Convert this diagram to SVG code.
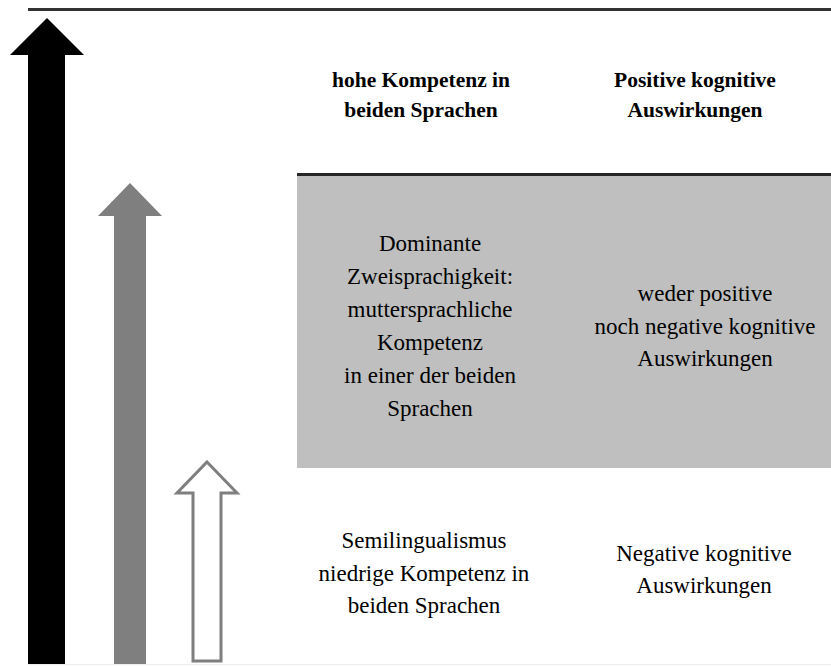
<svg xmlns="http://www.w3.org/2000/svg" width="831" height="666" viewBox="0 0 831 666">
  <style>
    .hd { font-family: "Liberation Serif", "Times New Roman", serif; font-size: 21.5px; font-weight: bold; fill: #000; text-anchor: middle; }
    .tx { font-family: "Liberation Serif", "Times New Roman", serif; font-size: 23px; fill: #000; text-anchor: middle; }
  </style>
  <rect width="831" height="666" fill="#ffffff"/>

  <!-- rules and shaded band -->
  <line x1="28" y1="9.5" x2="831" y2="9.5" stroke="#333333" stroke-width="3"/>
  <rect x="297" y="174" width="534" height="294" fill="#bfbfbf"/>
  <line x1="297" y1="174.5" x2="831" y2="174.5" stroke="#262626" stroke-width="3"/>
  <line x1="28" y1="664.5" x2="831" y2="664.5" stroke="#eeeeee" stroke-width="1"/>

  <!-- level arrows -->
  <g id="arrow-high">
    <polygon points="47,18 84,55 65,55 65,664 28,664 28,55 10,55" fill="#000000"/>
  </g>
  <g id="arrow-mid">
    <polygon points="130,183 162,216 146,216 146,664 114,664 114,216 98,216" fill="#7f7f7f"/>
  </g>
  <g id="arrow-low">
    <polygon points="207,462 237,493 221,493 221,661 193,661 193,493 177,493" fill="#ffffff" stroke="#7f7f7f" stroke-width="3"/>
  </g>

  <!-- row 1: high competence -->
  <g id="row-high-competence">
    <text class="hd" x="421" y="87">hohe Kompetenz in</text>
    <text class="hd" x="421" y="117">beiden Sprachen</text>
  </g>
  <g id="row-high-effects">
    <text class="hd" x="695" y="87">Positive kognitive</text>
    <text class="hd" x="695" y="117">Auswirkungen</text>
  </g>

  <!-- row 2: dominant bilingualism -->
  <g id="row-dominant-competence">
    <text class="tx" x="430" y="251">Dominante</text>
    <text class="tx" x="430" y="284">Zweisprachigkeit:</text>
    <text class="tx" x="430" y="317">muttersprachliche</text>
    <text class="tx" x="430" y="350">Kompetenz</text>
    <text class="tx" x="430" y="383">in einer der beiden</text>
    <text class="tx" x="430" y="416">Sprachen</text>
  </g>
  <g id="row-dominant-effects">
    <text class="tx" x="705" y="301">weder positive</text>
    <text class="tx" x="705" y="334">noch negative kognitive</text>
    <text class="tx" x="705" y="366">Auswirkungen</text>
  </g>

  <!-- row 3: semilingualism -->
  <g id="row-low-competence">
    <text class="tx" x="424" y="548">Semilingualismus</text>
    <text class="tx" x="424" y="581">niedrige Kompetenz in</text>
    <text class="tx" x="424" y="613">beiden Sprachen</text>
  </g>
  <g id="row-low-effects">
    <text class="tx" x="704" y="561">Negative kognitive</text>
    <text class="tx" x="704" y="593">Auswirkungen</text>
  </g>

  <g id="connectors"/>
</svg>
